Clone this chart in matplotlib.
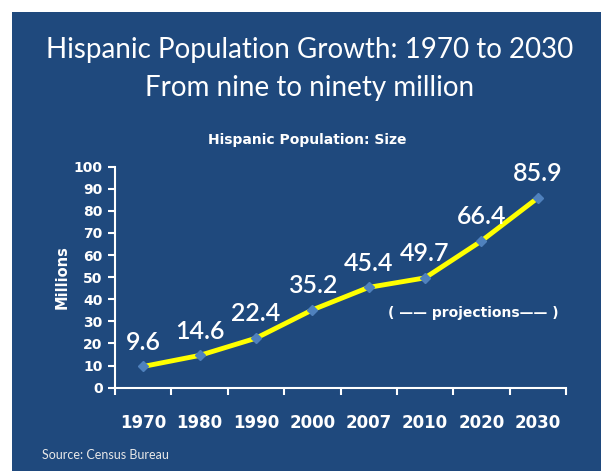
import matplotlib
matplotlib.use("Agg")
import matplotlib.pyplot as plt
from matplotlib.patches import Rectangle

years = ["1970", "1980", "1990", "2000", "2007", "2010", "2020", "2030"]
population = [9.6, 14.6, 22.4, 35.2, 45.4, 49.7, 66.4, 85.9]
value_labels = ["9.6", "14.6", "22.4", "35.2", "45.4", "49.7", "66.4", "85.9"]
yticks = [0, 10, 20, 30, 40, 50, 60, 70, 80, 90, 100]

BG = "#1F497D"
W, H = 601, 471
fig = plt.figure(figsize=(W / 100, H / 100), dpi=100)
fig.patch.set_facecolor("white")
fig.patches.append(Rectangle((12 / W, 0), 1 - 12 / W, 1 - 12 / H, transform=fig.transFigure,
                             facecolor=BG, edgecolor="none", zorder=-10))

ax = fig.add_axes([115 / W, 1 - 387.7 / H, (566 - 115) / W, (387.7 - 166.7) / H])
ax.set_facecolor("none")
x = list(range(len(years)))
ax.plot(x, population, color="#FFFF00", lw=3.5, zorder=2)
ax.plot(x, population, ls="none", marker="D", ms=5.5, color="#4F81BD", zorder=3)
for xi, v, lab in zip(x, population, value_labels):
    ax.annotate(lab, (xi, v), xytext=(0, 17.5), textcoords="offset points", ha="center", va="center",
                color="white", fontsize=18, family="Lato", fontweight="semibold")

ax.set_xlim(-0.5, len(years) - 0.5)
ax.set_ylim(0, 100)
ax.set_yticks(yticks)
ax.set_xticks([i - 0.5 for i in range(len(years) + 1)])
ax.set_xticklabels([])
ax.set_xticks(x, minor=True)
ax.set_xticklabels(years, minor=True)
ax.tick_params(axis="x", which="major", length=5, width=1.5, color="white", direction="out")
ax.tick_params(axis="x", which="minor", length=0, pad=19, labelsize=12, labelcolor="white")
ax.tick_params(axis="y", length=5, width=1.5, color="white", labelsize=10, labelcolor="white", pad=4)
for lab in ax.get_xticklabels(minor=True) + ax.get_yticklabels():
    lab.set_fontweight("bold")
for s in ["top", "right"]:
    ax.spines[s].set_visible(False)
for s in ["left", "bottom"]:
    ax.spines[s].set_color("white")
    ax.spines[s].set_linewidth(1.5)

ax.set_ylabel("Millions", color="white", fontweight="bold", fontsize=10.5, labelpad=3)

fig.text(310 / W, 1 - 50 / H, "Hispanic Population Growth: 1970 to 2030", ha="center", va="center",
         color="white", fontsize=20, family="Lato")
fig.text(310 / W, 1 - 88 / H, "From nine to ninety million", ha="center", va="center",
         color="white", fontsize=20, family="Lato")
fig.text(307 / W, 1 - 140 / H, "Hispanic Population: Size", ha="center", va="center",
         color="white", fontsize=10, fontweight="bold")
fig.text(473 / W, 1 - 313 / H, "( \u2014\u2014 projections\u2014\u2014 )", ha="center", va="center",
         color="white", fontsize=10, fontweight="bold")
fig.text(42 / W, 1 - 455 / H, "Source: Census Bureau", ha="left", va="center",
         color="#E8E8E8", fontsize=9, family="Lato")

fig.savefig("out.png", dpi=100, facecolor=fig.get_facecolor())
